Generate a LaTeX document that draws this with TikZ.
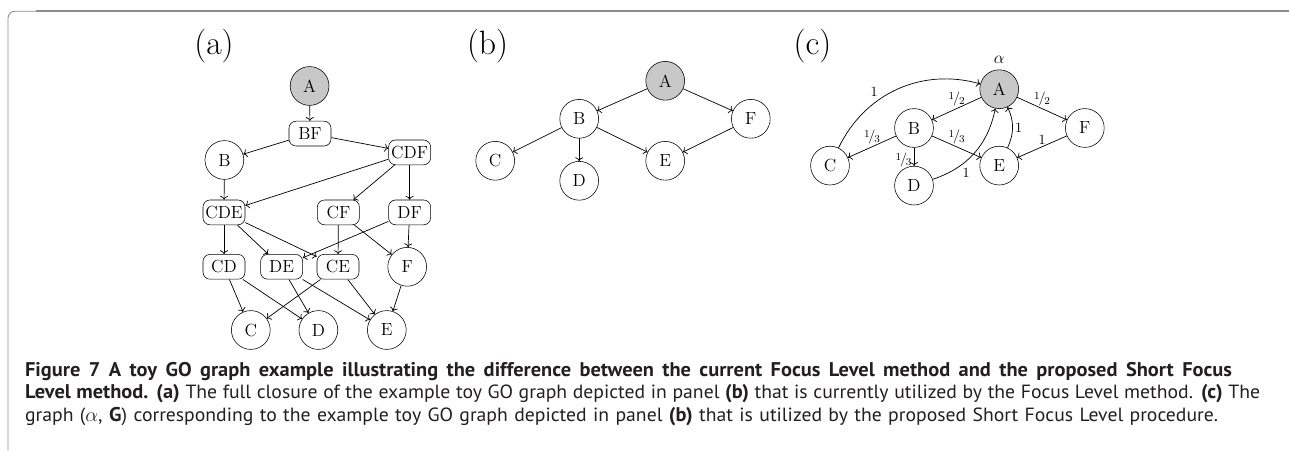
\documentclass[tikz,border=0pt]{standalone}
\usepackage{fontspec}
\newfontfamily\capfont[FakeStretch=1.03]{PT Sans}
\usepackage{xcolor}
\definecolor{rootfill}{HTML}{C8C8C8}
\definecolor{framegray}{HTML}{8C8C8C}
\definecolor{captext}{HTML}{231F20}
\usepackage{tikz}
\usetikzlibrary{arrows.meta,positioning}
\newcommand{\wfrac}[2]{\raisebox{0.55ex}{\fontsize{7.5}{8}\selectfont #1}\kern-0.08em/\kern-0.08em\raisebox{-0.25ex}{\fontsize{7.5}{8}\selectfont #2}}
\newcommand{\capb}[1]{{\bfseries\fontsize{14.1}{16}\selectfont #1}}

\begin{document}
\begin{tikzpicture}[
    term/.style={circle, draw, minimum size=0.97cm, inner sep=0pt, font=\fontsize{12.5}{15}\selectfont},
    closure/.style={draw, rounded corners=5pt, minimum width=1.05cm, minimum height=0.62cm, inner sep=1pt, font=\fontsize{12.5}{15}\selectfont},
    root/.style={fill=rootfill},
    panel/.style={font=\fontsize{24}{28}\selectfont},
    wlabel/.style={font=\fontsize{10}{12}\selectfont, inner sep=1.5pt},
    link/.style={->, line width=0.5pt},
    capline/.style={anchor=base west, inner sep=0pt, text=captext, font=\capfont\fontsize{13.6}{16}\selectfont}
  ]
  \useasboundingbox (0,0) rectangle (32.275,11.25);
  % frame
  \draw[framegray, line width=0.6pt, rounded corners=5pt] (0.2,0) |- (1,10.97);
  \draw[framegray, line width=1.5pt] (0.9,10.97) -- (32.23,10.97);

  % (a) full closure
  \node[panel] (la) at (5.35,10.11) {(a)};
  \node[term, root] (aA) at (7.74,9.10) {A};
  \node[closure] (aBF) at (7.75,7.91) {BF};
  \node[term] (aB) at (5.61,7.25) {B};
  \node[closure] (aCDF) at (10.24,7.44) {CDF};
  \node[closure] (aCDE) at (5.60,5.94) {CDE};
  \node[closure] (aCF) at (8.46,5.94) {CF};
  \node[closure] (aDF) at (10.24,5.94) {DF};
  \node[closure] (aCD) at (5.60,4.58) {CD};
  \node[closure] (aDE) at (7.04,4.58) {DE};
  \node[closure] (aCE) at (8.45,4.58) {CE};
  \node[term] (aF) at (10.18,4.58) {F};
  \node[term] (aC) at (6.27,3.0) {C};
  \node[term] (aD) at (7.96,3.0) {D};
  \node[term] (aE) at (9.67,3.0) {E};
  \draw[link] (aA) -- (aBF);
  \draw[link] (aBF) -- (aB);
  \draw[link] (aBF) -- (aCDF);
  \draw[link] (aB) -- (aCDE);
  \draw[link] (aCDF) -- (aCDE);
  \draw[link] (aCDF) -- (aCF);
  \draw[link] (aCDF) -- (aDF);
  \draw[link] (aCDE) -- (aCD);
  \draw[link] (aCDE) -- (aDE);
  \draw[link] (aCDE) -- (aCE);
  \draw[link] (aCF) -- (aCE);
  \draw[link] (aCF) -- (aF);
  \draw[link] (aDF) -- (aDE);
  \draw[link] (aDF) -- (aF);
  \draw[link] (aCD) -- (aC);
  \draw[link] (aCD) -- (aD);
  \draw[link] (aDE) -- (aD);
  \draw[link] (aDE) -- (aE);
  \draw[link] (aCE) -- (aC);
  \draw[link] (aCE) -- (aE);
  \draw[link] (aF) -- (aE);

  % (b) toy GO graph
  \node[panel] (lb) at (12.19,10.11) {(b)};
  \node[term, root] (bA) at (16.63,9.23) {A};
  \node[term] (bB) at (14.48,8.28) {B};
  \node[term] (bF) at (18.77,8.28) {F};
  \node[term] (bC) at (12.38,7.23) {C};
  \node[term] (bD) at (14.48,6.73) {D};
  \node[term] (bE) at (16.63,7.23) {E};
  \draw[link] (bA) -- (bB);
  \draw[link] (bA) -- (bF);
  \draw[link] (bB) -- (bC);
  \draw[link] (bB) -- (bD);
  \draw[link] (bB) -- (bE);
  \draw[link] (bF) -- (bE);

  % (c) weighted graph
  \node[panel] (lc) at (20.31,10.1) {(c)};
  \node[term, root, label={[label distance=1pt, font=\fontsize{12.5}{15}\selectfont]above:$\alpha$}] (cA) at (24.98,9.02) {A};
  \node[term] (cB) at (22.85,8.05) {B};
  \node[term] (cF) at (27.12,8.05) {F};
  \node[term] (cC) at (20.75,7.11) {C};
  \node[term] (cD) at (22.85,6.61) {D};
  \node[term] (cE) at (24.98,7.11) {E};
  \draw[link] (cA) -- node[wlabel, above] {\wfrac{1}{2}} (cB);
  \draw[link] (cA) -- node[wlabel, above] {\wfrac{1}{2}} (cF);
  \draw[link] (cB) -- node[wlabel, above] {\wfrac{1}{3}} (cC);
  \draw[link] (cB) -- node[wlabel, above] {\wfrac{1}{3}} (cE);
  \draw[link] (cB) -- node[wlabel, pos=0.7, left] {\wfrac{1}{3}} (cD);
  \draw[link] (cF) -- node[wlabel, above] {1} (cE);
  \draw[link] (cC) to[bend left=40] node[wlabel, pos=0.38, above left] {1} (cA);
  \draw[link] (cD) to[bend right=30] node[wlabel, pos=0.3, below right] {1} (cA);
  \draw[link] (cE) to[bend right=25] node[wlabel, right] {1} (cA);

  % caption, lines set to the widths of the printed column
  \node[capline] (cap1) at (0.62,1.85) {\hbox to 30.175cm{\capb{Figure 7 A toy GO graph example illustrating the difference between the current Focus Level method and the proposed Short Focus}}};
  \node[capline] (cap2) at (0.62,1.29) {\hbox to 30.875cm{\capb{Level method. (a)} The full closure of the example toy GO graph depicted in panel \capb{(b)} that is currently utilized by the Focus Level method. \capb{(c)} The}};
  \node[capline] (cap3) at (0.62,0.725) {\hbox to 29.825cm{graph ($\alpha$, \capb{G}) corresponding to the example toy GO graph depicted in panel \capb{(b)} that is utilized by the proposed Short Focus Level procedure.}};
\end{tikzpicture}
\end{document}
